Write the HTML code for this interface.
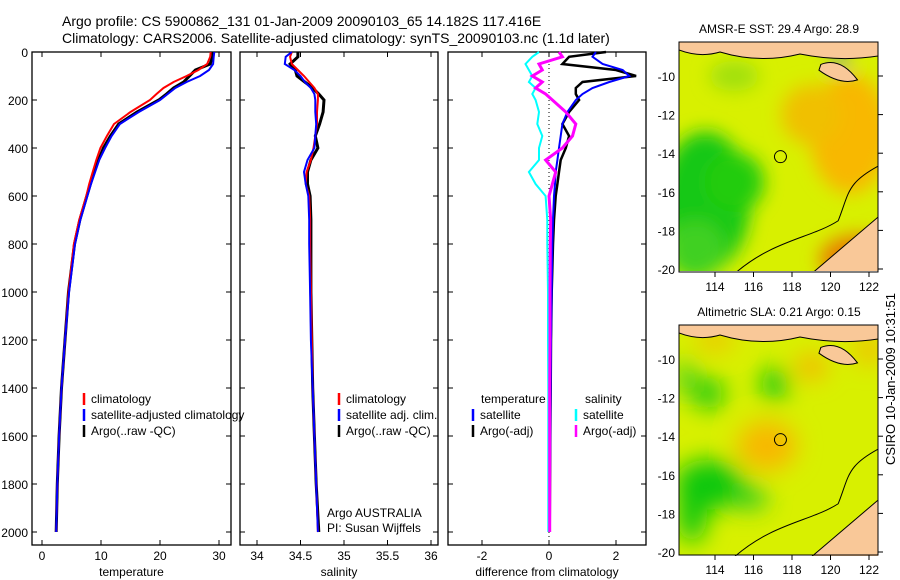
<!DOCTYPE html>
<html><head><meta charset="utf-8"><style>
body{margin:0;background:#fff;}
svg{display:block;font-family:"Liberation Sans",sans-serif;}
</style></head><body>
<svg id="fig" width="900" height="580" viewBox="0 0 900 580">
<defs>
<filter id="bl1" x="-50%" y="-50%" width="200%" height="200%"><feGaussianBlur stdDeviation="9"/></filter>
<filter id="bl2" x="-50%" y="-50%" width="200%" height="200%"><feGaussianBlur stdDeviation="12"/></filter>
<clipPath id="c1"><rect x="679" y="42" width="199" height="229"/></clipPath>
<clipPath id="c2"><rect x="679" y="325" width="199" height="231"/></clipPath>
</defs>
<text x="62" y="26" font-size="14">Argo profile: CS 5900862_131 01-Jan-2009 20090103_65 14.182S 117.416E</text>
<text x="62" y="43" font-size="14">Climatology: CARS2006. Satellite-adjusted climatology: synTS_20090103.nc (1.1d later)</text>
<g id="plots"></g>
<g id="maps"></g>
<text transform="translate(895,465) rotate(-90)" font-size="13">CSIRO 10-Jan-2009 10:31:51</text>
</svg>
<script>
// pressure levels (dbar)
const pres = [0,20,50,75,100,125,150,175,200,250,300,350,400,450,500,550,600,700,800,1000,1200,1400,1600,1800,2000];
// temperature
const tClim = [28.6,28.5,28.0,26.5,24.5,22.3,20.6,19.4,18.3,15.0,12.2,11.0,9.9,9.2,8.6,8.0,7.5,6.3,5.4,4.5,3.9,3.3,2.9,2.6,2.4];
const tSat  = [29.2,29.1,29.0,28.3,26.8,24.5,22.6,21.3,20.0,16.4,13.2,11.8,10.7,9.7,9.0,8.3,7.7,6.5,5.6,4.6,3.9,3.3,2.9,2.6,2.4];
const tArgo = [29.0,28.9,28.5,26.0,25.0,24.0,22.3,21.1,19.8,16.1,13.0,11.6,10.4,9.6,8.8,8.2,7.6,6.4,5.5,4.5,3.9,3.3,2.9,2.6,2.4];
// salinity
const sClim = [34.40,34.38,34.40,34.47,34.54,34.60,34.66,34.70,34.70,34.69,34.69,34.67,34.65,34.62,34.57,34.56,34.60,34.61,34.61,34.62,34.63,34.64,34.66,34.68,34.70];
const sSat  = [34.40,34.33,34.32,34.43,34.50,34.55,34.62,34.66,34.67,34.67,34.68,34.67,34.66,34.58,34.54,34.56,34.59,34.60,34.60,34.61,34.62,34.64,34.66,34.68,34.70];
const sArgo = [34.47,34.47,34.38,34.44,34.46,34.55,34.64,34.71,34.77,34.76,34.72,34.67,34.70,34.62,34.58,34.58,34.61,34.62,34.62,34.62,34.63,34.64,34.66,34.68,34.71];
// differences from climatology
const dTsat = [1.4,1.3,1.6,2.2,2.4,1.8,1.3,1.0,0.8,0.55,0.4,0.35,0.3,0.25,0.2,0.18,0.15,0.12,0.1,0.08,0.06,0.05,0.04,0.03,0.02];
const dTargo= [1.7,0.6,0.4,2.0,2.6,1.0,0.8,0.8,0.9,0.6,0.4,0.6,0.5,0.35,0.3,0.25,0.2,0.15,0.12,0.08,0.06,0.05,0.04,0.03,0.02];
const dSsat = [-0.3,-0.5,-0.7,-0.6,-0.5,-0.6,-0.4,-0.5,-0.4,-0.3,-0.35,-0.2,-0.3,-0.3,-0.6,-0.4,-0.1,-0.05,-0.05,-0.03,-0.03,-0.02,-0.02,-0.02,-0.02];
const dSargo= [0.3,0.4,-0.3,-0.2,-0.5,-0.2,-0.4,-0.1,0.1,0.5,0.8,0.7,0.4,-0.1,0.2,0.1,0.0,0.05,0.04,0.03,0.03,0.02,0.02,0.02,0.02];
const ptick = [0,200,400,600,800,1000,1200,1400,1600,1800,2000];
const tTicks = [0,10,20,30];
const sTicks = [34,34.5,35,35.5,36];
const dTicks = [-2,0,2];
const NS="http://www.w3.org/2000/svg";
const plots=document.getElementById('plots');
function el(tag,attrs,parent){const e=document.createElementNS(NS,tag);for(const k in attrs)e.setAttribute(k,attrs[k]);(parent||plots).appendChild(e);return e;}
const yP = p => 52 + 0.24*p;
function panel(x0,x1,xf,ticks,xlabel,name,showY){
  const g=el('g',{});
  
  
  el('rect',{x:x0,y:52,width:x1-x0,height:493,fill:'none',stroke:'#000','stroke-width':1.3},g);
  ptick.forEach(p=>{const y=yP(p);
    el('line',{x1:x0,x2:x0+5,y1:y,y2:y,stroke:'#000'},g);el('line',{x1:x1-5,x2:x1,y1:y,y2:y,stroke:'#000'},g);
    if(showY){const t=el('text',{x:x0-4,y:y+5,'font-size':12,'text-anchor':'end'},g);t.textContent=p;}});
  ticks.forEach(v=>{const x=xf(v);
    el('line',{x1:x,x2:x,y1:52,y2:57,stroke:'#000'},g);el('line',{x1:x,x2:x,y1:540,y2:545,stroke:'#000'},g);
    const t=el('text',{x:x,y:560,'font-size':12,'text-anchor':'middle'},g);t.textContent=v;});
  const lb=el('text',{x:(x0+x1)/2,y:576,'font-size':12,'text-anchor':'middle'},g);lb.textContent=xlabel;
  return g;}
function line(g,xf,vals,col,w,name){
  const d=vals.map((v,i)=>(i?'L':'M')+xf(v).toFixed(1)+','+yP(pres[i]).toFixed(1)).join('');
  const p=el('path',{d:d,fill:'none',stroke:col,'stroke-width':w},g);
  
  }
function legend(g,x,y,items){items.forEach((it,i)=>{
  el('line',{x1:x,x2:x,y1:y+i*16-10,y2:y+i*16+2,stroke:it[1],'stroke-width':2.5},g);
  const t=el('text',{x:x+7,y:y+i*16,'font-size':12},g);t.textContent=it[0];});}
// panel 1
const xT=v=>42+5.9*v;
const g1=panel(32,231,xT,tTicks,'temperature','temperature-panel',true);
line(g1,xT,tArgo,'#000',3,'temp-argo-line');line(g1,xT,tClim,'#f00',2,'temp-clim-line');line(g1,xT,tSat,'#00f',2,'temp-sat-line');
legend(g1,84,403,[['climatology','#f00'],['satellite-adjusted climatology','#00f'],['Argo(..raw -QC)','#000']]);
// panel 2
const xS=v=>257+87*(v-34);
const g2=panel(240,438,xS,sTicks,'salinity','salinity-panel',false);
line(g2,xS,sArgo,'#000',3,'sal-argo-line');line(g2,xS,sClim,'#f00',2,'sal-clim-line');line(g2,xS,sSat,'#00f',2,'sal-sat-line');
legend(g2,339,403,[['climatology','#f00'],['satellite adj. clim.','#00f'],['Argo(..raw -QC)','#000']]);
let t=el('text',{x:327,y:517,'font-size':12},g2);t.textContent='Argo AUSTRALIA';
t=el('text',{x:327,y:532,'font-size':12},g2);t.textContent='PI: Susan Wijffels';
// panel 3
const xD=v=>549+33.5*v;
const g3=panel(448,646,xD,dTicks,'difference from climatology','difference-panel',false);
el('line',{x1:549,x2:549,y1:52,y2:545,stroke:'#000','stroke-dasharray':'1,3'},g3);
line(g3,xD,dTargo,'#000',2.5,'dtemp-argo-line');line(g3,xD,dTsat,'#00f',2,'dtemp-sat-line');
line(g3,xD,dSsat,'#0ff',2,'dsal-sat-line');line(g3,xD,dSargo,'#f0f',3,'dsal-argo-line');
t=el('text',{x:481,y:403,'font-size':12},g3);t.textContent='temperature';
t=el('text',{x:585,y:403,'font-size':12},g3);t.textContent='salinity';
legend(g3,473,419,[['satellite','#00f'],['Argo(-adj)','#000']]);
legend(g3,576,419,[['satellite','#0ff'],['Argo(-adj)','#f0f']]);
// maps
const maps=document.getElementById('maps');
const lonTicks=[114,116,118,120,122];
const latTicks=[10,12,14,16,18,20];
const xL=l=>715+19.25*(l-114);
function map(top,title,name,blobs,clip,filt){
  const g=el('g',{},maps);
  
  
  const yL=L=>top+34+19.3*(L-10);
  const c=el('g',{'clip-path':'url(#'+clip+')'},g);
  el('rect',{x:679,y:top,width:199,height:230,fill:'#d8f000'},c);
  const bg=el('g',{filter:'url(#'+filt+')'},c);
  blobs.forEach(b=>el('ellipse',{cx:xL(b[0]),cy:yL(b[1]),rx:b[2],ry:b[3],fill:b[4]},bg));
  // coastline and land
  el('path',{d:`M${xL(119)},${top+232} L${xL(122.6)},${yL(17.2)} L${xL(122.6)},${top+232} Z`,fill:'#f9c898',stroke:'#000'},c);
  el('path',{d:`M679,${top} L878,${top} L878,${top+14} Q840,${top+20} 800,${top+12} Q760,${top+22} 720,${top+10} Q700,${top+16} 679,${top+8} Z`,fill:'#f9c898',stroke:'#000'},c);
  el('path',{d:`M${xL(119.5)},${yL(9.4)} Q${xL(120.5)},${yL(9.0)} ${xL(121.4)},${yL(10.2)} Q${xL(120.5)},${yL(10.5)} ${xL(119.4)},${yL(9.7)} Z`,fill:'#f9c898',stroke:'#000'},c);
  el('path',{d:`M${xL(115)},${top+232} C${xL(117)},${yL(18.5)} ${xL(119)},${yL(18.4)} ${xL(120.4)},${yL(17.5)} C${xL(121)},${yL(16)} ${xL(120.8)},${yL(15.5)} ${xL(122.8)},${yL(14.5)}`,fill:'none',stroke:'#000'},c);
  el('circle',{cx:xL(117.4),cy:yL(14.18),r:6,fill:'none',stroke:'#000'},g);
  el('rect',{x:679,y:top,width:199,height:230,fill:'none',stroke:'#000'},g);
  lonTicks.forEach(l=>{const x=xL(l);el('line',{x1:x,x2:x,y1:top+230,y2:top+235,stroke:'#000'},g);
    const tt=el('text',{x:x,y:top+249,'font-size':12,'text-anchor':'middle'},g);tt.textContent=l;});
  latTicks.forEach(L=>{const y=yL(L);el('line',{x1:878,x2:883,y1:y,y2:y,stroke:'#000'},g);
    const tt=el('text',{x:675,y:y+5,'font-size':12,'text-anchor':'end'},g);tt.textContent='-'+L;});
  const tt=el('text',{x:779,y:top-9,'font-size':12,'text-anchor':'middle'},g);tt.textContent=title;
}
map(42,'AMSR-E SST: 29.4  Argo: 28.9','sst-map',[
 [113.5,16.5,45,70,'#14c814'],[115,15.5,30,30,'#20cc10'],[113,19,30,30,'#40d020'],
 [121,13,40,60,'#f8b800'],[121.5,19.5,40,25,'#e88000'],[119,12,30,30,'#f0c000'],[120.5,9.2,8,5,'#0060ff'],[115,10,25,15,'#a0e010']],'c1','bl1');
map(325,'Altimetric SLA: 0.21  Argo: 0.15','sla-map',[
 [113.7,16.5,35,25,'#10c810'],[112.8,18,15,30,'#10c810'],[115.8,17.2,18,12,'#30cc20'],
 [113.7,11.8,14,16,'#10c810'],[117.1,11.3,14,16,'#10c810'],[112.5,11,8,20,'#30cc20'],
 [116.7,14.5,30,25,'#f8b800'],[119,10.4,15,12,'#f8b000'],[114,9,20,10,'#f0c000'],[122,9.5,15,15,'#f0c000']],'c2','bl2');
</script>
</body></html>
